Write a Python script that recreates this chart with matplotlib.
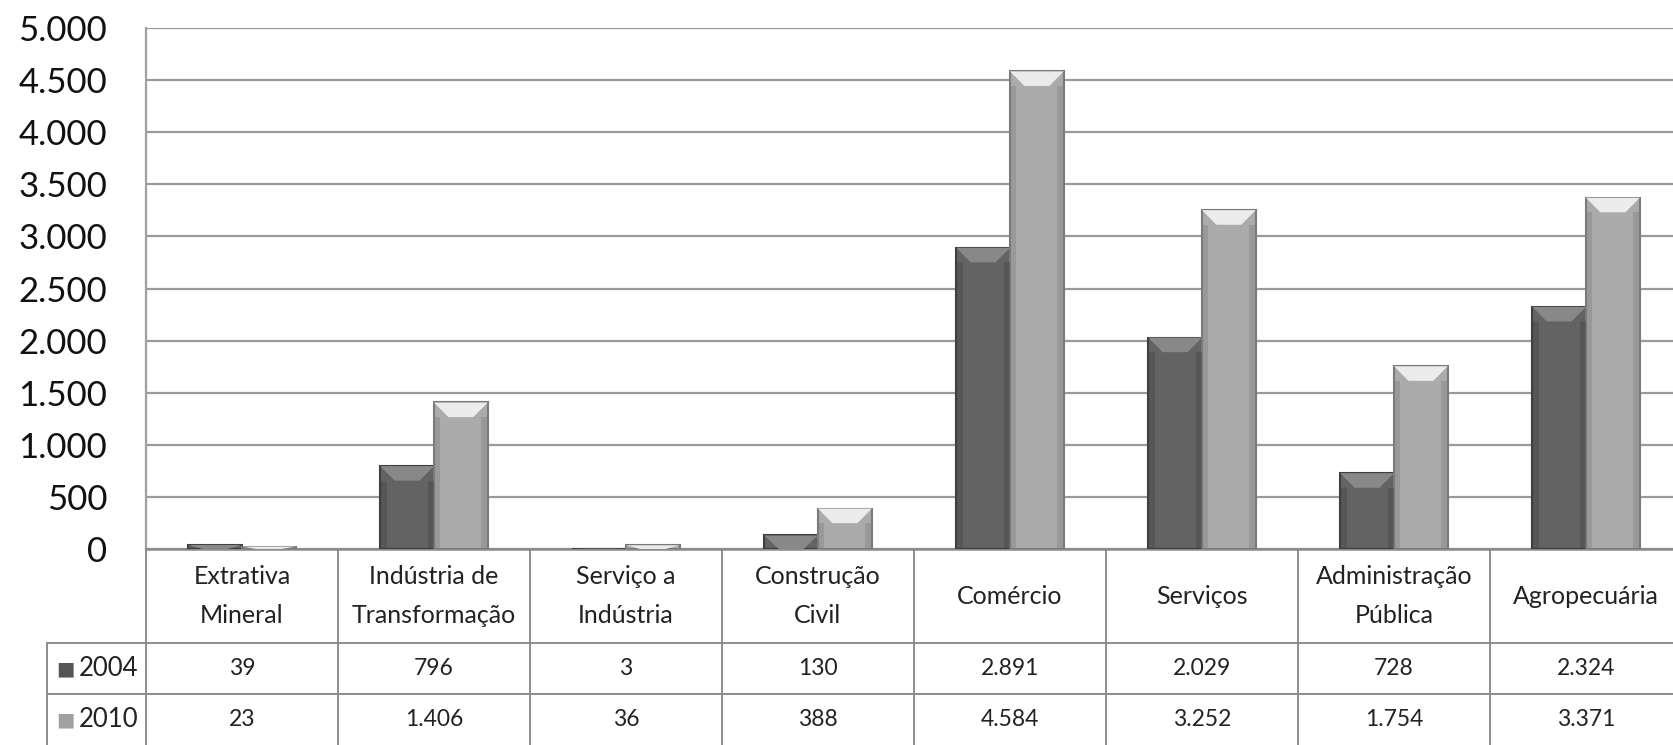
import matplotlib
matplotlib.use('Agg')
import matplotlib.pyplot as plt
from matplotlib.patches import Polygon, Rectangle
import numpy as np

# data
categories = ['Extrativa\nMineral', 'Indústria de\nTransformação', 'Serviço a\nIndústria',
              'Construção\nCivil', 'Comércio', 'Serviços', 'Administração\nPública',
              'Agropecuária']
years = ['2004', '2010']
values_2004 = [39, 796, 3, 130, 2891, 2029, 728, 2324]
values_2010 = [23, 1406, 36, 388, 4584, 3252, 1754, 3371]
labels_2004 = ['39', '796', '3', '130', '2.891', '2.029', '728', '2.324']
labels_2010 = ['23', '1.406', '36', '388', '4.584', '3.252', '1.754', '3.371']
yticks = [0, 500, 1000, 1500, 2000, 2500, 3000, 3500, 4000, 4500, 5000]
ytick_labels = ['0', '500', '1.000', '1.500', '2.000', '2.500', '3.000',
                '3.500', '4.000', '4.500', '5.000']

plt.rcParams['font.family'] = ['Lato', 'DejaVu Sans']

W, H = 1674, 745
fig = plt.figure(figsize=(W / 100, H / 100), dpi=100)

col_w = 192  # pixel width of one category column
left_px, zero_px, top_px = 146, 549, 28
ax = fig.add_axes([left_px / W, (H - zero_px) / H, 8 * col_w / W, (zero_px - top_px) / H])

x = np.arange(len(categories))
bw = 0.28
series = [(values_2004, '#636363', '#3e3e3e', '#888888', -bw / 2),
          (values_2010, '#ababab', '#7a7a7a', '#ececec', bw / 2)]
for vals, fc, ec, hl, off in series:
    bars = ax.bar(x + off, vals, width=bw, color=fc, edgecolor=ec, linewidth=1.5, zorder=3)
    for b in bars:
        x0, x1, h = b.get_x(), b.get_x() + b.get_width(), b.get_height()
        d = min(140, h)
        inset = 0.075
        # bevel highlight on top of the bar
        ax.add_patch(Polygon([(x0, h), (x1, h), (x1 - inset, h - d), (x0 + inset, h - d)],
                             closed=True, facecolor=hl, edgecolor='none', zorder=4))
        # darker sides for a rounded look
        ax.add_patch(Rectangle((x0, 0), bw * 0.12, max(h - d, 0), facecolor=ec,
                               alpha=0.35, edgecolor='none', zorder=4))
        ax.add_patch(Rectangle((x1 - bw * 0.12, 0), bw * 0.12, max(h - d, 0), facecolor=ec,
                               alpha=0.35, edgecolor='none', zorder=4))

ax.set_xlim(-0.5, 7.5)
ax.set_ylim(0, 5000)
ax.set_yticks(yticks)
ax.set_yticklabels(ytick_labels, fontsize=25, color='#111111')
ax.tick_params(axis='y', length=0, pad=28)
ax.set_xticks([])
ax.yaxis.grid(True, color='#9a9a9a', linewidth=1.6, zorder=0)
for s in ['top', 'right']:
    ax.spines[s].set_visible(False)
ax.spines['left'].set_color('#a0a0a0')
ax.spines['left'].set_linewidth(1.6)
ax.spines['bottom'].set_color('#8a8a8a')
ax.spines['bottom'].set_linewidth(1.8)

# data table under the chart
tab = fig.add_axes([left_px / W, 0, 8 * col_w / W, (H - zero_px) / H])
tab.set_xlim(-0.5, 7.5)
tab.set_ylim(H - zero_px, 0)
tab.axis('off')
line_c = '#8c8c8c'
row1, row2, row3 = 94, 145, 196
leg_left = -0.5 - (left_px - 47) / col_w
for i in range(len(categories) + 1):
    tab.plot([i - 0.5, i - 0.5], [0, row3], color=line_c, lw=1.4, clip_on=False)
tab.plot([leg_left, leg_left], [row1, row3], color=line_c, lw=1.4, clip_on=False)
for yy in [row1, row2]:
    tab.plot([leg_left, 7.6], [yy, yy], color=line_c, lw=1.4, clip_on=False)

for i, cat in enumerate(categories):
    tab.text(i, row1 / 2, cat, ha='center', va='center', fontsize=18,
             linespacing=1.8, color='#222222')
    tab.text(i, (row1 + row2) / 2, labels_2004[i], ha='center', va='center',
             fontsize=16.5, color='#222222')
    tab.text(i, (row2 + row3) / 2, labels_2010[i], ha='center', va='center',
             fontsize=16.5, color='#222222')

# legend keys inside the table
for yy, yr, c in [((row1 + row2) / 2, years[0], '#555555'), ((row2 + row3) / 2, years[1], '#a0a0a0')]:
    tab.text(leg_left + 0.05, yy, '\u25A0', ha='left', va='center', fontsize=14,
             color=c, clip_on=False)
    tab.text(-0.54, yy, yr, ha='right', va='center', fontsize=18.5,
             color='#222222', clip_on=False)

fig.savefig('out.png', dpi=100, facecolor='white')
